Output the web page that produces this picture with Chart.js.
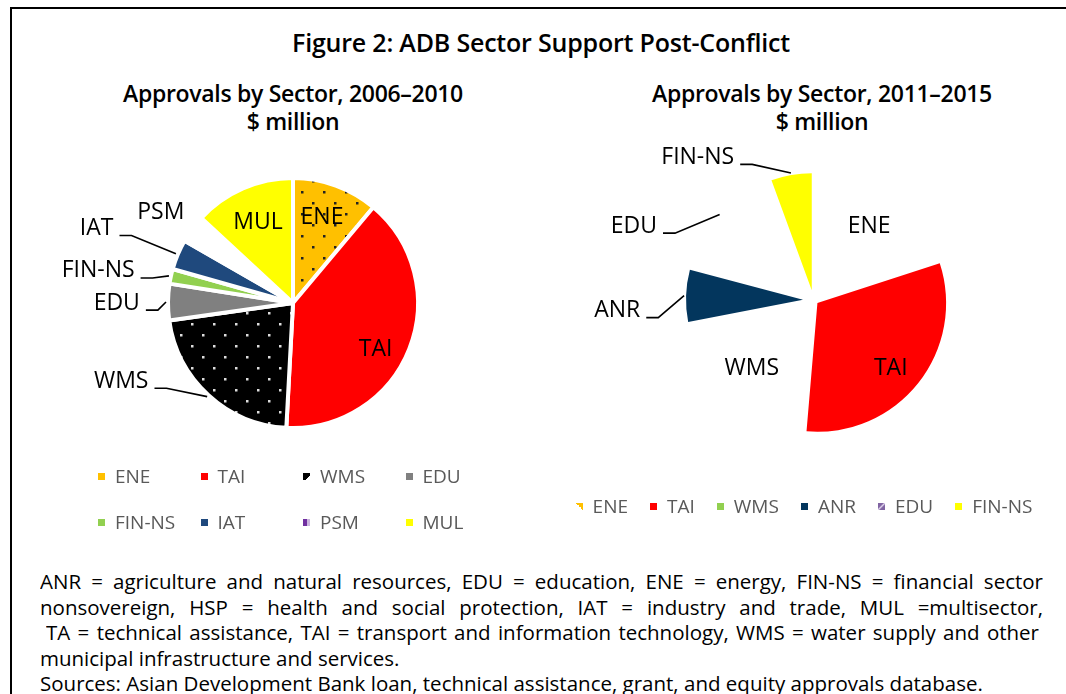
<!DOCTYPE html>
<html>
<head>
<meta charset="utf-8">
<script src="https://cdn.jsdelivr.net/npm/chart.js@4.4.1/dist/chart.umd.min.js"></script>
<style>
  html, body { margin: 0; padding: 0; background: #fff; }
  body { width: 1066px; height: 694px; position: relative; overflow: hidden; font-family: "Open Sans", sans-serif; color: #000; }
  .frame { position: absolute; left: 10px; top: 7px; width: 1200px; height: 800px; border-left: 2px solid #000; border-top: 2px solid #000; }
  .title { position: absolute; left: 0; width: 1082px; top: 26px; line-height: 32px; text-align: center; font-weight: 600; font-size: 25px; letter-spacing: -0.2px; }
  .sub { position: absolute; width: 440px; top: 79px; line-height: 28px; text-align: center; font-weight: 600; font-size: 23px; letter-spacing: -0.3px; }
  canvas { position: absolute; }
  .legend1 { position: absolute; left: 98px; top: 462px; display: grid; grid-template-columns: repeat(4, 102.5px); row-gap: 18px; }
  .legend2 { position: absolute; left: 504px; width: 600px; top: 492px; display: flex; justify-content: center; }
  .item { display: flex; align-items: center; font-size: 19px; color: #595959; height: 28px; white-space: nowrap; }
  .legend2 .item { margin: 0 11px; }
  .mark { width: 7px; height: 7px; margin-right: 10px; flex: none; }
  .notes { position: absolute; left: 40px; width: 1003px; top: 569px; font-size: 20.5px; line-height: 25.5px; }
  .notes div { white-space: nowrap; }
  .notes .j { white-space: normal; text-align: justify; text-align-last: justify; height: 25.5px; overflow: hidden; }
</style>
</head>
<body>
<div class="frame"></div>
<div class="title">Figure 2: ADB Sector Support Post-Conflict</div>
<div class="sub" style="left:73px">Approvals by Sector, 2006–2010<br>$ million</div>
<div class="sub" style="left:602px">Approvals by Sector, 2011–2015<br>$ million</div>
<canvas id="pie1" width="520" height="320" style="left:33px; top:143px"></canvas>
<canvas id="pie2" width="507" height="320" style="left:560px; top:140px"></canvas>
<div class="legend1" id="legend1"></div>
<div class="legend2" id="legend2"></div>
<div class="notes">
  <div class="j">ANR = agriculture and natural resources, EDU = education, ENE = energy, FIN-NS = financial sector</div>
  <div class="j">nonsovereign, HSP = health and social protection, IAT = industry and trade, MUL =multisector,</div>
  <div class="j" style="margin-left:6px; margin-right:4px">TA = technical assistance, TAI = transport and information technology, WMS = water supply and other</div>
  <div>municipal infrastructure and services.</div>
  <div>Sources: Asian Development Bank loan, technical assistance, grant, and equity approvals database.</div>
</div>
<script>
// 2006-2010 approvals, share of total
const sectors1 = ["ENE", "TAI", "WMS", "EDU", "FIN-NS", "IAT", "PSM", "MUL"];
const approvals1 = [11.1, 39.7, 21.9, 4.7, 1.9, 3.9, 3.6, 13.1];

// 2011-2015 approvals
const sectors2 = ["ENE", "TAI", "WMS", "ANR", "EDU", "FIN-NS"];
const approvals2 = [20.0, 31.4, 20.6, 7.2, 15.3, 5.6];

function dotPattern(bg, dot) {
  const c = document.createElement("canvas");
  c.width = 22; c.height = 22;
  const g = c.getContext("2d");
  g.fillStyle = bg; g.fillRect(0, 0, 22, 22);
  g.fillStyle = dot;
  g.fillRect(4, 4, 2.5, 2.5);
  g.fillRect(15, 15, 2.5, 2.5);
  return g.createPattern(c, "repeat");
}

const fills1 = [dotPattern("#FFC000", "#222"), "#FF0000", dotPattern("#000", "#ddd"), "#808080",
  "#92D050", "#1F497D", "#ffffff", "#FFFF00"];
const fills2 = ["#ffffff", "#FF0000", "#ffffff", "#03365D", "#ffffff", "#FFFF00"];

const legendMarks1 = ["#FFC000", "#FF0000", "linear-gradient(135deg,#000 65%,#fff 65%)", "#808080",
  "#92D050", "#1F497D", "linear-gradient(90deg,#7030A0 60%,#CBB5DE 60%)", "#FFFF00"];
const legendMarks2 = ["linear-gradient(225deg,#FFC000 50%,transparent 50%)", "#FF0000", "#92D050", "#03365D",
  "linear-gradient(135deg,#8064A2 35%,#DCD0EA 50%,#8064A2 65%)", "#FFFF00"];

// label placement: [distance / radius, angle shift from slice middle (deg), leader line]
const place1 = [[0.72, -1.2, false], [0.76, 8, false], [1.51, 23, true], [1.41, -0.5, true],
  [1.58, -3, true], [1.68, -2, true], [1.28, -2, false], [0.70, 0, false]];
const place2 = [[0.79, 1, false], [0.88, 3, false], [0.79, 0, false], [1.68, -5, true],
  [1.66, -20, true], [1.57, -29, true]];

const sliceLabels = {
  id: "sliceLabels",
  afterDatasetsUpdate(chart, args, opts) {
    const meta = chart.getDatasetMeta(0);
    meta.data.forEach((arc, i) => {
      const mid = (arc.startAngle + arc.endAngle) / 2;
      const d = (opts.explode || [])[i] || 0;
      arc.x += Math.cos(mid) * d;
      arc.y += Math.sin(mid) * d;
      arc.outerRadius *= (opts.scale || [])[i] || 1;
    });
  },
  afterDatasetsDraw(chart, args, opts) {
    const ctx = chart.ctx;
    const meta = chart.getDatasetMeta(0);
    const area = chart.chartArea;
    const cx = (area.left + area.right) / 2, cy = (area.top + area.bottom) / 2;
    const R = meta.controller.outerRadius;
    ctx.save();
    ctx.font = '23px "Open Sans"';
    ctx.fillStyle = "#000";
    ctx.strokeStyle = "#000";
    ctx.lineWidth = 1.6;
    ctx.textAlign = "center";
    ctx.textBaseline = "middle";
    meta.data.forEach((arc, i) => {
      const label = chart.data.labels[i];
      const mid = (arc.startAngle + arc.endAngle) / 2;
      const [f, shift, lead] = opts.place[i];
      const a = mid + shift * Math.PI / 180;
      const lx = cx + Math.cos(a) * R * f;
      const ly = cy + Math.sin(a) * R * f;
      ctx.fillText(label, lx, ly);
      if (lead) {
        const w = ctx.measureText(label).width;
        const x0 = lx + w / 2 + 6, y0 = ly + 7;
        const ex = arc.x + Math.cos(mid) * (arc.outerRadius + 2);
        const ey = arc.y + Math.sin(mid) * (arc.outerRadius + 2);
        ctx.beginPath();
        ctx.moveTo(x0, y0);
        ctx.lineTo(x0 + 12, y0);
        ctx.lineTo(ex, ey);
        ctx.stroke();
      }
    });
    ctx.restore();
  }
};

function makePie(id, labels, values, fills, border, radius, labelOpts) {
  return new Chart(document.getElementById(id), {
    type: "pie",
    data: {
      labels: labels,
      datasets: [{ data: values, backgroundColor: fills, borderColor: "#fff", borderWidth: border }]
    },
    options: {
      responsive: false,
      animation: false,
      radius: radius,
      events: [],
      layout: { padding: 0 },
      plugins: { legend: { display: false }, tooltip: { enabled: false }, sliceLabels: labelOpts }
    },
    plugins: [sliceLabels]
  });
}

makePie("pie1", sectors1, approvals1, fills1, 4, 125, { place: place1 });
makePie("pie2", sectors2, approvals2, fills2, 0, 117,
  { place: place2, explode: [0, 5, 0, 10.5, 8, 10], scale: [1, 1.1, 1, 1, 1, 1] });

function buildLegend(id, labels, marks) {
  const box = document.getElementById(id);
  labels.forEach((name, i) => {
    const item = document.createElement("div");
    item.className = "item";
    const m = document.createElement("span");
    m.className = "mark";
    m.style.background = marks[i];
    item.appendChild(m);
    item.appendChild(document.createTextNode(name));
    box.appendChild(item);
  });
}
buildLegend("legend1", sectors1, legendMarks1);
buildLegend("legend2", sectors2, legendMarks2);
</script>
</body>
</html>
